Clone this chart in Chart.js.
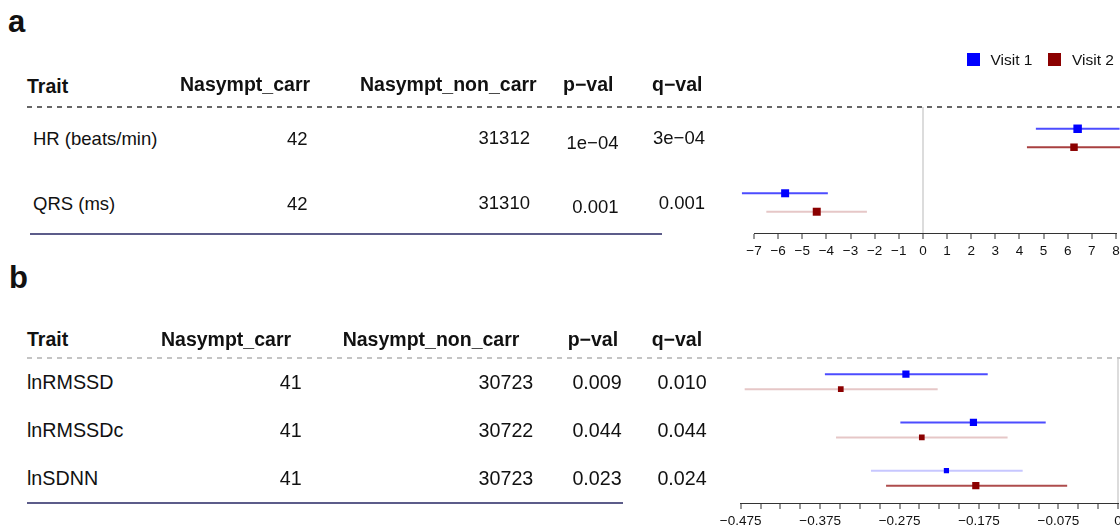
<!DOCTYPE html>
<html>
<head>
    <meta charset="UTF-8">
    <title>Forest plot</title>
    <script src="https://cdn.jsdelivr.net/npm/chart.js@4.4.1/dist/chart.umd.min.js"></script>
    <style>
        html, body { margin: 0; padding: 0; background: #fff; }
        body { width: 1120px; height: 525px; overflow: hidden; position: relative;
               font-family: "Liberation Sans", Arial, Helvetica, sans-serif; color: #111; }
        .t { position: absolute; white-space: nowrap; line-height: 1; }
        .b { font-weight: bold; }
        .dash { position: absolute; height: 2px; }
        .rule { position: absolute; height: 2px; background: #5c5c8a; }
        canvas { position: absolute; }
        .sq { position: absolute; width: 13px; height: 13px; }
    </style>
</head>
<body>
    <canvas id="plotA" width="460" height="225" style="left:700px; top:40px;"></canvas>
    <canvas id="plotB" width="460" height="240" style="left:700px; top:300px;"></canvas>
    <div id="txt"></div>
</body>
<script>
    // ---- data, panel a
    var traitsA = ['HR (beats/min)', 'QRS (ms)'];
    var nCarrA = [42, 42];
    var nNonCarrA = [31312, 31310];
    var pValA = ['1e\u221204', '0.001'];
    var qValA = ['3e\u221204', '0.001'];
    var v1EstA = [6.41, -5.71];
    var v1LoA = [4.68, -7.5];
    var v1HiA = [8.15, -3.94];
    var v2EstA = [6.26, -4.40];
    var v2LoA = [4.31, -6.49];
    var v2HiA = [8.2, -2.32];

    // ---- data, panel b
    var traitsB = ['lnRMSSD', 'lnRMSSDc', 'lnSDNN'];
    var nCarrB = [41, 41, 41];
    var nNonCarrB = [30723, 30722, 30723];
    var pValB = ['0.009', '0.044', '0.023'];
    var qValB = ['0.010', '0.044', '0.024'];
    var v1EstB = [-0.267, -0.182, -0.216];
    var v1LoB = [-0.369, -0.274, -0.311];
    var v1HiB = [-0.164, -0.091, -0.120];
    var v2EstB = [-0.349, -0.247, -0.179];
    var v2LoB = [-0.470, -0.355, -0.292];
    var v2HiB = [-0.227, -0.139, -0.064];

    var visits = ['Visit 1', 'Visit 2'];
    var headers = ['Trait', 'Nasympt_carr', 'Nasympt_non_carr', 'p\u2212val', 'q\u2212val'];

    // ---- styles
    var visitColors = ['#0000FF', '#8B0000'];
    var visitRgb = ['0,0,255', '139,0,0'];
    var FONT = '"Liberation Sans", Arial, Helvetica, sans-serif';

    var txtBox = document.getElementById('txt');
    function txt(s, x, base, size, bold, right) {
        var d = document.createElement('div');
        d.className = 't' + (bold ? ' b' : '');
        d.textContent = s;
        d.style.fontSize = size + 'px';
        d.style.top = (base - 0.8467 * size) + 'px';
        if (right) d.style.right = (1120 - x) + 'px';
        else d.style.left = x + 'px';
        txtBox.appendChild(d);
    }
    function line(cls, x, y, w, bg) {
        var d = document.createElement('div');
        d.className = cls;
        d.style.left = x + 'px';
        d.style.top = y + 'px';
        d.style.width = w + 'px';
        if (bg) d.style.background = bg;
        txtBox.appendChild(d);
    }
    function dashes(c) {
        return 'repeating-linear-gradient(to right, ' + c + ' 0 5px, transparent 5px 10px)';
    }
    function minus(s) { return String(s).replace('-', '\u2212'); }

    // ---- panel labels
    txt('a', 8, 32.5, 31, true);
    txt('b', 9, 288.5, 31, true);

    // ---- legend
    visits.forEach(function (v, k) {
        var sq = document.createElement('div');
        sq.className = 'sq';
        sq.style.left = [966.5, 1047.5][k] + 'px';
        sq.style.top = '53px';
        sq.style.background = visitColors[k];
        txtBox.appendChild(sq);
        txt(v, [990.5, 1072][k], 64.8, 15.5, false);
    });

    // ---- table a
    txt(headers[0], 27, 94, 19.5, true);
    txt(headers[1], 180, 91.7, 19.5, true);
    txt(headers[2], 360, 91.7, 19.5, true);
    txt(headers[3], 563, 91.7, 19.5, true);
    txt(headers[4], 652, 91.7, 19.5, true);
    line('dash', 27, 106, 1093, dashes('#666'));
    traitsA.forEach(function (t, i) {
        var base = 146 + i * 64.5;
        txt(t, 33, base, 18.5, false);
        txt(nCarrA[i], 307.5, base, 18.5, false, true);
        txt(nNonCarrA[i], 530, base - 1, 18.5, false, true);
        txt(pValA[i], 618.5, base + 3.5, 18.5, false, true);
        txt(qValA[i], 705, base - 1, 18.5, false, true);
    });
    line('rule', 30, 233, 632);

    // ---- table b
    txt(headers[0], 27, 346.7, 19.5, true);
    txt(headers[1], 161, 346.7, 19.5, true);
    txt(headers[2], 342.7, 346.7, 19.5, true);
    txt(headers[3], 567.7, 346.7, 19.5, true);
    txt(headers[4], 651.7, 346.7, 19.5, true);
    line('dash', 27, 357, 1093, dashes('#c4c4c4'));
    traitsB.forEach(function (t, i) {
        var base = 390 + i * 47.9;
        txt(t, 27, base, 19.7, false);
        txt(nCarrB[i], 301.7, base, 19.7, false, true);
        txt(nNonCarrB[i], 533.3, base, 19.7, false, true);
        txt(pValB[i], 621.7, base, 19.7, false, true);
        txt(qValB[i], 706.7, base, 19.7, false, true);
    });
    line('rule', 27, 501.5, 596);

    // ---- forest plots
    function forest(id, est, lo, hi, off, ciAlpha, boxSide, xOpt, yMin, yMax, pad) {
        var datasets = [];
        for (var v = 0; v < 2; v++) {
            var dy = v === 0 ? -off : off;
            datasets.push({
                label: visits[v],
                data: est[v].map(function (e, i) { return { x: e, y: i + dy }; }),
                pointStyle: 'rect',
                pointRadius: boxSide[v].map(function (s) { return s / Math.SQRT2; }),
                backgroundColor: visitColors[v],
                borderWidth: 0,
                order: 0
            });
            for (var i = 0; i < est[v].length; i++) {
                datasets.push({
                    data: [{ x: lo[v][i], y: i + dy }, { x: hi[v][i], y: i + dy }],
                    showLine: true,
                    pointRadius: 0,
                    borderColor: 'rgba(' + visitRgb[v] + ',' + ciAlpha[v][i] + ')',
                    borderWidth: 2,
                    clip: false,
                    order: 1
                });
            }
        }
        return new Chart(document.getElementById(id), {
            type: 'scatter',
            data: { datasets: datasets },
            options: {
                responsive: false,
                animation: false,
                events: [],
                devicePixelRatio: 1,
                layout: { padding: pad },
                plugins: { legend: { display: false }, tooltip: { enabled: false } },
                scales: {
                    x: {
                        type: 'linear',
                        min: xOpt.min,
                        max: xOpt.max,
                        ticks: {
                            stepSize: xOpt.step,
                            autoSkip: false,
                            maxRotation: 0,
                            padding: 4,
                            color: '#111',
                            font: { family: FONT, size: 13.5 },
                            callback: xOpt.label
                        },
                        grid: {
                            drawOnChartArea: true,
                            color: function (c) { return c.tick && Math.abs(c.tick.value) < 1e-9 ? '#dcdcdc' : 'rgba(0,0,0,0)'; },
                            lineWidth: 2,
                            tickLength: 6,
                            tickColor: '#333',
                            tickWidth: 1
                        },
                        border: { display: true, color: '#333', width: 1 },
                        afterFit: function (s) { s.height = 30; }
                    },
                    y: { type: 'linear', display: false, reverse: true, min: yMin, max: yMax }
                }
            }
        });
    }

    forest('plotA',
        [v1EstA, v2EstA], [v1LoA, v2LoA], [v1HiA, v2HiA], 0.143,
        [[0.7, 0.7], [0.75, 0.22]],
        [[8.5, 8], [7.5, 8]],
        { min: -7, max: 8, step: 1, label: function (v) { return minus(v); } },
        -0.4806, 1.4729,
        { left: 54, right: 44, top: 67, bottom: 2 });

    forest('plotB',
        [v1EstB, v2EstB], [v1LoB, v2LoB], [v1HiB, v2HiB], 0.155,
        [[0.7, 0.7, 0.22], [0.22, 0.22, 0.7]],
        [[7.2, 7.2, 5.2], [5.7, 5.7, 7.2]],
        {
            min: -0.475, max: 0, step: 0.025, label: function (v, i) {
                if (Math.abs(v) < 1e-9) return '0';
                return i % 4 === 0 ? minus(v.toFixed(3)) : '';
            }
        },
        -0.512, 2.514,
        { left: 40.7, right: 42, top: 57, bottom: 7 });
</script>
</html>
